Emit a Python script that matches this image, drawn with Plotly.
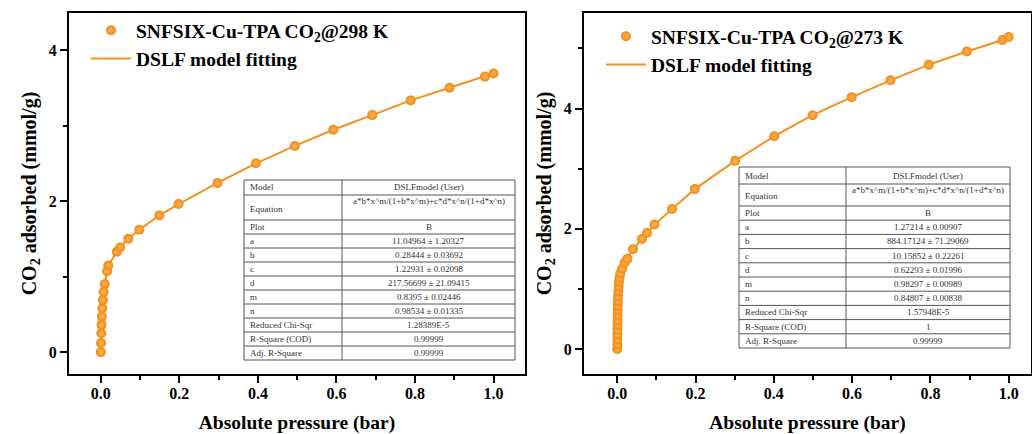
import plotly.graph_objects as go

# ---- CO2 isotherm data (pressure in bar, uptake in mmol/g) ----
p298 = [0.0, 0.0005, 0.0012, 0.0018, 0.0027, 0.0038, 0.0053, 0.0072, 0.0098,
        0.016, 0.019, 0.041, 0.049, 0.070, 0.098, 0.149, 0.198, 0.297, 0.395,
        0.494, 0.592, 0.691, 0.789, 0.888, 0.978, 1.000]
q298 = [0.00, 0.12, 0.25, 0.36, 0.47, 0.58, 0.69, 0.80, 0.90,
        1.07, 1.146, 1.33, 1.385, 1.50, 1.62, 1.81, 1.96, 2.24, 2.50,
        2.73, 2.944, 3.138, 3.333, 3.50, 3.648, 3.69]

p273 = [0.0, 0.00008, 0.00017, 0.00027, 0.00038, 0.0005, 0.00065, 0.0008,
        0.001, 0.0013, 0.0017, 0.0022, 0.0028, 0.0036, 0.0046, 0.006,
        0.0077, 0.0128, 0.019, 0.026, 0.040, 0.063, 0.076, 0.095, 0.14,
        0.198, 0.301, 0.401, 0.499, 0.599, 0.698, 0.796, 0.893, 0.984, 1.000]
q273 = [0.00, 0.08, 0.16, 0.24, 0.32, 0.40, 0.48, 0.56,
        0.64, 0.72, 0.80, 0.88, 0.96, 1.04, 1.12, 1.19,
        1.26, 1.34, 1.44, 1.50, 1.66, 1.83, 1.93, 2.07, 2.33,
        2.66, 3.13, 3.54, 3.89, 4.19, 4.47, 4.73, 4.95, 5.14, 5.19]

# ---- DSLF fit report tables ----
table_labels = ["Model", "Equation", "Plot", "a", "b", "c", "d", "m", "n",
                "Reduced Chi-Sqr", "R-Square (COD)", "Adj. R-Square"]
equation = "a*b*x^m/(1+b*x^m)+c*d*x^n/(1+d*x^n)"
fit298 = ["DSLFmodel (User)", equation, "B",
          "11.04964 ± 1.20327", "0.28444 ± 0.03692", "1.22931 ± 0.02098",
          "217.56699 ± 21.09415", "0.8395 ± 0.02446", "0.98534 ± 0.01335",
          "1.28389E-5", "0.99999", "0.99999"]
fit273 = ["DSLFmodel (User)", equation, "B",
          "1.27214 ± 0.00907", "884.17124 ± 71.29069", "10.15852 ± 0.22261",
          "0.62293 ± 0.01996", "0.98297 ± 0.00989", "0.84807 ± 0.00838",
          "1.57948E-5", "1", "0.99999"]

name298 = "<b>SNFSIX-Cu-TPA CO<sub>2</sub>@298 K</b>"
name273 = "<b>SNFSIX-Cu-TPA CO<sub>2</sub>@273 K</b>"
fit_name = "<b>DSLF model fitting</b>"

SERIF = "Liberation Serif, Times New Roman, Times, serif"
ORANGE = "#F5901E"
W, H = 1032, 434

fig = go.Figure()


def add_isotherm(px, qy, xa, ya, leg, label):
    fig.add_trace(go.Scatter(
        x=px, y=qy, xaxis=xa, yaxis=ya, mode="lines", name=fit_name,
        line=dict(color=ORANGE, width=2), legend=leg, legendrank=2,
        hoverinfo="skip"))
    fig.add_trace(go.Scatter(
        x=px, y=qy, xaxis=xa, yaxis=ya, mode="markers", name=label,
        marker=dict(color="#F08A0E", size=10,
                    gradient=dict(type="radial", color="#FFB45E"),
                    line=dict(width=0)),
        legend=leg, legendrank=1))


add_isotherm(p298, q298, "x", "y", "legend", name298)
add_isotherm(p273, q273, "x2", "y2", "legend2", name273)

# ---- fit report tables, laid out in pixel units then mapped to paper ----
shapes, annotations = [], []
cell_font = dict(family=SERIF, size=9, color="#333333")


def fx(px):
    return px / W


def fy(py):
    return 1 - py / H


def add_table(labels, values, left, top, right, split, row_heights):
    bottom = top + sum(row_heights)
    line = dict(color="#555555", width=1)
    shapes.append(dict(type="rect", xref="paper", yref="paper",
                       x0=fx(left), x1=fx(right), y0=fy(bottom), y1=fy(top),
                       fillcolor="white", line=line, layer="above"))
    shapes.append(dict(type="line", xref="paper", yref="paper",
                       x0=fx(split), x1=fx(split), y0=fy(bottom), y1=fy(top),
                       line=line, layer="above"))
    y = top
    for i, (lab, val, h) in enumerate(zip(labels, values, row_heights)):
        if i > 0:
            shapes.append(dict(type="line", xref="paper", yref="paper",
                               x0=fx(left), x1=fx(right), y0=fy(y), y1=fy(y),
                               line=line, layer="above"))
        mid = y + h / 2
        lab_y = mid + 1 if lab == "Equation" else mid
        val_y = y + 6 if lab == "Equation" else mid
        annotations.append(dict(xref="paper", yref="paper", x=fx(left + 4),
                                y=fy(lab_y), text=lab, showarrow=False,
                                xanchor="left", yanchor="middle",
                                font=cell_font))
        annotations.append(dict(xref="paper", yref="paper",
                                x=fx((split + right) / 2), y=fy(val_y),
                                text=val, showarrow=False, xanchor="center",
                                yanchor="middle", font=cell_font))
        y += h


add_table(table_labels, fit298, 244, 180, 515, 342,
          [15, 25] + [14] * 10)
add_table(table_labels, fit273, 739, 167, 1010, 846,
          [17, 22] + [14.2] * 10)

tick_font = dict(family=SERIF, size=16, weight=700, color="black")
ydom = [1 - 374 / H, 1 - 13 / H]


def xaxis(dom, rng):
    return dict(domain=dom, range=rng, showline=True, linecolor="black",
                linewidth=2, mirror=True, ticks="outside", ticklen=7,
                tickwidth=2, tickcolor="black", showgrid=False, zeroline=False,
                tickvals=[0, 0.2, 0.4, 0.6, 0.8, 1.0], tickformat=".1f",
                tickfont=tick_font, ticklabelstandoff=-3,
                minor=dict(ticks="outside", ticklen=4, tickwidth=2,
                           tickcolor="black", dtick=0.1, tick0=0),
                title=dict(text="<b>Absolute pressure (bar)</b>",
                           font=dict(family=SERIF, size=19.5, weight=700,
                                     color="black"),
                           standoff=14))


def yaxis(anchor, rng):
    return dict(domain=ydom, range=rng, anchor=anchor, showline=True,
                linecolor="black", linewidth=2, mirror=True, ticks="outside",
                ticklen=7, tickwidth=2, tickcolor="black", showgrid=False,
                zeroline=False, dtick=2, tick0=0, tickfont=tick_font,
                minor=dict(ticks="outside", ticklen=4, tickwidth=2,
                           tickcolor="black", dtick=1, tick0=0),
                title=dict(text="<b>CO<sub>2</sub> adsorbed (mmol/g)</b>",
                           font=dict(family=SERIF, size=20, weight=700,
                                     color="black"),
                           standoff=7))


legend_font = dict(family=SERIF, size=19.5, weight=700, color="black")

fig.update_layout(
    width=W, height=H,
    margin=dict(l=0, r=0, t=0, b=0),
    paper_bgcolor="white", plot_bgcolor="white",
    showlegend=True,
    xaxis=dict(xaxis([69 / W, 525 / W], [-0.081, 1.080]), anchor="y"),
    yaxis=yaxis("x", [-0.29, 4.49]),
    xaxis2=dict(xaxis([584 / W, 1031 / W], [-0.085, 1.057]), anchor="y2"),
    yaxis2=yaxis("x2", [-0.416, 5.59]),
    legend=dict(x=86 / W, y=1 - 11 / H, xanchor="left", yanchor="top",
                bgcolor="rgba(0,0,0,0)", font=legend_font, itemwidth=40,
                tracegroupgap=0),
    legend2=dict(x=601 / W, y=1 - 17 / H, xanchor="left", yanchor="top",
                 bgcolor="rgba(0,0,0,0)", font=legend_font, itemwidth=40,
                 tracegroupgap=0),
    shapes=shapes,
    annotations=annotations,
)

fig.write_html("out.html")
